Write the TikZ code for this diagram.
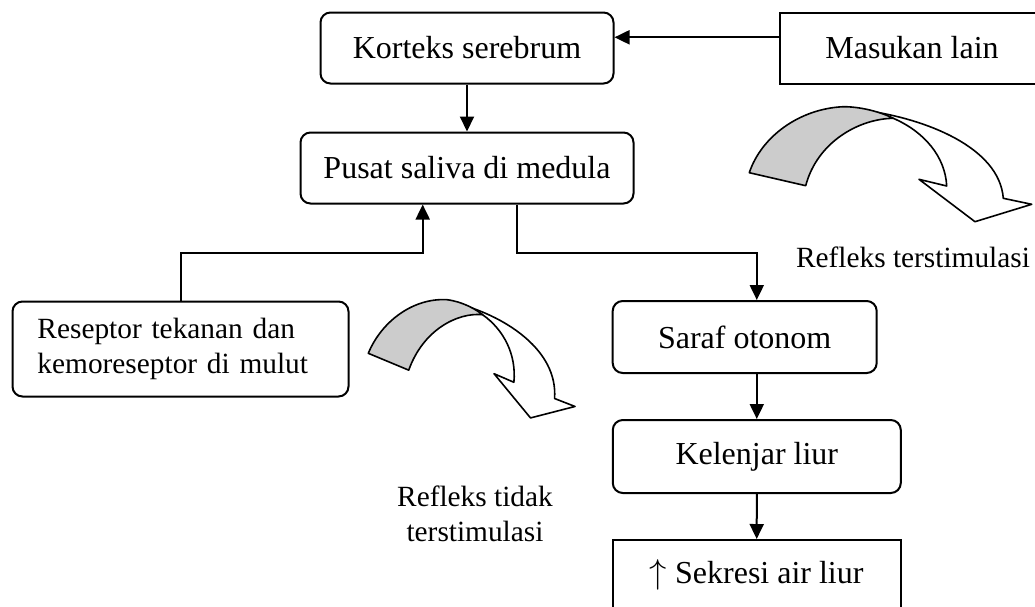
\documentclass[tikz,border=0pt]{standalone}
\usepackage{fontspec}
\setmainfont{Liberation Serif}
\usepackage{tikz}
\usetikzlibrary{arrows.meta}
\definecolor{ribbon-grey}{HTML}{cccccc}

\begin{document}
\begin{tikzpicture}[
    x=0.5pt, y=-0.5pt,
    font=\fontsize{16}{19}\selectfont,
    smalltext/.style={font=\fontsize{14.67}{17.5}\selectfont},
    roundbox/.style={draw, line width=1pt, rounded corners=5pt, inner sep=0pt, align=center},
    squarebox/.style={draw, line width=1pt, inner sep=0pt, align=center},
    link/.style={line width=1pt, -{Triangle[length=7.5pt,width=7pt]}},
    ribbon/.style={draw, line width=0.8pt, line join=round},
    ]

% Canvas
\useasboundingbox (0,0) rectangle (1035,606);
\clip (0,0) rectangle (1035,606);

% Draws top row
\node[roundbox, minimum width=146.5pt, minimum height=35.5pt] (korteks) at (467,48) {Korteks serebrum};
\node[squarebox, minimum width=132pt, minimum height=35.5pt] (masukan) at (912,48) {Masukan lain};

% Draws centre
\node[roundbox, minimum width=166.5pt, minimum height=35.5pt] (pusat) at (467,168) {Pusat saliva di medula};

% Draws left receptor box
\node[roundbox, smalltext, minimum width=168pt, minimum height=47.5pt, text width=143pt,
    inner xsep=12.5pt, align=left] (reseptor) at (180.5,349)
    {Reseptor tekanan dan\\kemoreseptor di mulut};

% Draws right column
\node[roundbox, minimum width=132pt, minimum height=36pt] (saraf) at (744.7,337) {Saraf otonom};
\node[roundbox, minimum width=144pt, minimum height=36.5pt] (kelenjar) at (756.8,456.5) {Kelenjar liur};
\node[squarebox, minimum width=144pt, minimum height=35pt] (sekresi) at (756.7,575) {$\uparrow$ Sekresi air liur};

% Labels
\node[smalltext] (lblya) at (913,257) {Refleks terstimulasi};
\node[smalltext, align=center] (lbltidak) at (475,514) {Refleks tidak\\terstimulasi};

% Connectors
\coordinate (elbowL) at (422.7,252.7);
\coordinate (elbowR) at (517.3,252.7);
\draw[link] ([yshift=5.35pt]masukan.west) -- ([yshift=5.35pt]masukan.west -| korteks.east);
\draw[link] (korteks.south) -- (pusat.north);
\draw[link] (reseptor.north) |- (elbowL) -- (elbowL |- pusat.south);
\draw[link] (elbowR |- pusat.south) -- (elbowR) -| (kelenjar.north |- saraf.north);
\draw[link] (saraf.south -| kelenjar.north) -- (kelenjar.north);
\draw[link] (kelenjar.south) -- (sekresi.north);

% Draws upper curved arrow
\begin{scope}[shift={(749.3,172.7)}]
    \path[ribbon, fill=white] (117.4,-62) .. controls (175,-54) and (250,-26) .. (254,25.6)
        -- (282.4,31.6) -- (225.7,49) -- (169.7,6.6) -- (197.4,13.3)
        .. controls (196,-16) and (175,-41) .. (144,-54.4) -- cycle;
    \path[ribbon, fill=ribbon-grey] (0,0) .. controls (12,-36) and (50,-64) .. (94,-66)
        .. controls (115,-66) and (135,-59) .. (144,-54.4)
        .. controls (110,-54) and (68,-31) .. (56.4,13) -- cycle;
\end{scope}

% Draws lower curved arrow, same ribbon squeezed and turned
\begin{scope}[shift={(368.3,353.3)}, cm={0.746,-0.084,0.126,0.932,(0,0)}]
    \path[ribbon, fill=white] (117.4,-62) .. controls (175,-54) and (250,-26) .. (254,25.6)
        -- (282.4,31.6) -- (225.7,49) -- (169.7,6.6) -- (197.4,13.3)
        .. controls (196,-16) and (175,-41) .. (144,-54.4) -- cycle;
    \path[ribbon, fill=ribbon-grey] (0,0) .. controls (12,-36) and (50,-64) .. (94,-66)
        .. controls (115,-66) and (135,-59) .. (144,-54.4)
        .. controls (110,-54) and (68,-31) .. (56.4,13) -- cycle;
\end{scope}

\end{tikzpicture}
\end{document}
